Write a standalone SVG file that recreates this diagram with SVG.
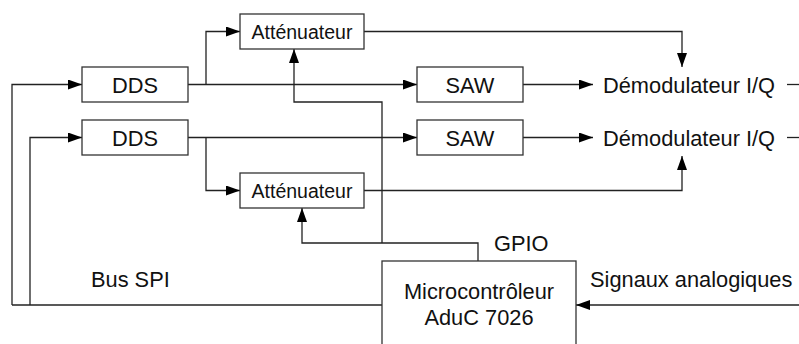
<svg xmlns="http://www.w3.org/2000/svg" width="799" height="344" viewBox="0 0 799 344">
<defs>
<marker id="arr" viewBox="0 0 14 10" refX="14" refY="5" markerWidth="14" markerHeight="10" markerUnits="userSpaceOnUse" orient="auto">
<path d="M0,0 L14,5 L0,10 Z" fill="#000"/>
</marker>
<style>
.box{fill:#fff;stroke:#333;stroke-width:1.3}
.ln{fill:none;stroke:#222;stroke-width:1.3}
.t{font-family:"Liberation Sans",Arial,sans-serif;font-size:21.8px;fill:#111}
.ts{font-family:"Liberation Sans",Arial,sans-serif;font-size:19.5px;fill:#111}
</style>
</defs>
<rect width="799" height="344" fill="#fff"/>
<g id="connectors">
<polyline class="ln" points="12,305 12,84.5 82,84.5" marker-end="url(#arr)"/>
<polyline class="ln" points="30,305 30,137.5 82,137.5" marker-end="url(#arr)"/>
<line class="ln" x1="12" y1="305" x2="382" y2="305"/>
<line class="ln" x1="188" y1="84.5" x2="417" y2="84.5" marker-end="url(#arr)"/>
<polyline class="ln" points="206,84.5 206,31.5 240,31.5" marker-end="url(#arr)"/>
<line class="ln" x1="188" y1="137.5" x2="417" y2="137.5" marker-end="url(#arr)"/>
<polyline class="ln" points="206,137.5 206,190.5 240,190.5" marker-end="url(#arr)"/>
<polyline class="ln" points="364,31.5 682,31.5 682,67" marker-end="url(#arr)"/>
<polyline class="ln" points="364,190.5 682,190.5 682,156" marker-end="url(#arr)"/>
<line class="ln" x1="523" y1="84.5" x2="593" y2="84.5" marker-end="url(#arr)"/>
<line class="ln" x1="523" y1="137.5" x2="593" y2="137.5" marker-end="url(#arr)"/>
<line class="ln" x1="787" y1="84.5" x2="799" y2="84.5"/>
<line class="ln" x1="787" y1="137.5" x2="799" y2="137.5"/>
<polyline class="ln" points="478,261 478,243 302,243 302,208" marker-end="url(#arr)"/>
<polyline class="ln" points="382,243 382,102 294,102 294,49" marker-end="url(#arr)"/>
<line class="ln" x1="799" y1="305" x2="576" y2="305" marker-end="url(#arr)"/>
</g>
<g id="att1"><rect class="box" x="240" y="14" width="124" height="35"/><text class="ts" x="302" y="38.5" text-anchor="middle">Atténuateur</text></g>
<g id="dds1"><rect class="box" x="82" y="67" width="106" height="35"/><text class="t" x="135" y="92.5" text-anchor="middle">DDS</text></g>
<g id="dds2"><rect class="box" x="82" y="120" width="106" height="35"/><text class="t" x="135" y="145.5" text-anchor="middle">DDS</text></g>
<g id="saw1"><rect class="box" x="417" y="67" width="106" height="35"/><text class="t" x="470" y="92.5" text-anchor="middle">SAW</text></g>
<g id="saw2"><rect class="box" x="417" y="120" width="106" height="35"/><text class="t" x="470" y="145.5" text-anchor="middle">SAW</text></g>
<g id="att2"><rect class="box" x="240" y="173" width="124" height="35"/><text class="ts" x="302" y="198" text-anchor="middle">Atténuateur</text></g>
<g id="demod1"><text class="t" x="603" y="93">Démodulateur I/Q</text></g>
<g id="demod2"><text class="t" x="603" y="146">Démodulateur I/Q</text></g>
<g id="micro"><rect class="box" x="382" y="261" width="194" height="100"/><text class="t" x="479" y="299" text-anchor="middle">Microcontrôleur</text><text class="t" x="479" y="325" text-anchor="middle">AduC 7026</text></g>
<g id="labels">
<text class="t" x="91" y="287">Bus SPI</text>
<text class="t" x="494" y="251">GPIO</text>
<text class="t" x="590" y="287">Signaux analogiques</text>
</g>
</svg>
